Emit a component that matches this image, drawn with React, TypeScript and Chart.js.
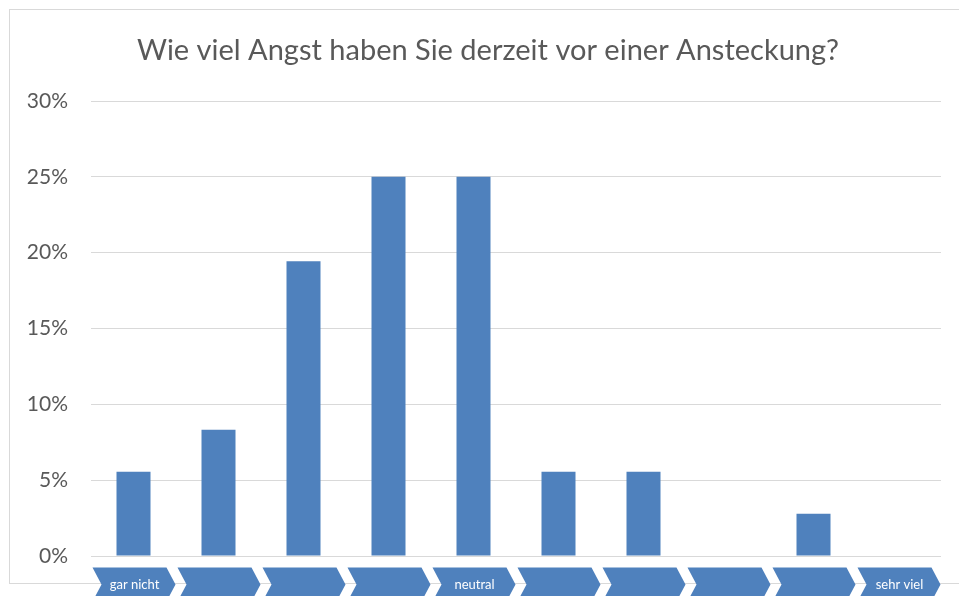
import React, { useEffect, useRef } from "react";
import { Chart, registerables } from "chart.js";

Chart.register(...registerables);

const chartTitle = "Wie viel Angst haben Sie derzeit vor einer Ansteckung?";
const categories = ["1", "2", "3", "4", "5", "6", "7", "8", "9", "10"];
const chevronLabels = ["gar nicht", "", "", "", "neutral", "", "", "", "", "sehr viel"];
const shares = [5.56, 8.33, 19.44, 25, 25, 5.56, 5.56, 0, 2.78, 0];
const yMin = 0;
const yMax = 30;
const yStep = 5;

const BLUE = "#4F81BD";
const GRID = "#D9D9D9";
const TEXT = "#595959";
const FONT = "Lato, 'Open Sans', sans-serif";

const decorPlugin = {
  id: "decor",
  beforeDraw(chart: any) {
    const ctx = chart.ctx;
    ctx.save();
    ctx.fillStyle = "#ffffff";
    ctx.fillRect(0, 0, chart.width, chart.height);
    ctx.strokeStyle = GRID;
    ctx.lineWidth = 1;
    ctx.strokeRect(9.5, 9.5, 970, 574);
    ctx.restore();
  },
  afterDraw(chart: any) {
    const ctx = chart.ctx;
    const area = chart.chartArea;
    const xs = chart.scales.x;
    ctx.save();
    // title
    ctx.fillStyle = TEXT;
    ctx.font = `29px ${FONT}`;
    ctx.textAlign = "center";
    ctx.textBaseline = "alphabetic";
    ctx.fillText(chartTitle, 488, 60);
    // chevrons
    const top = area.bottom + 11.5;
    const h = 34;
    const mid = top + h / 2;
    const bot = top + h;
    chevronLabels.forEach((lab, i) => {
      const cx = xs.getPixelForValue(i);
      ctx.beginPath();
      ctx.moveTo(cx - 41, top);
      ctx.lineTo(cx + 33, top);
      ctx.lineTo(cx + 42, mid);
      ctx.lineTo(cx + 33, bot);
      ctx.lineTo(cx - 41, bot);
      ctx.lineTo(cx - 32, mid);
      ctx.closePath();
      ctx.fillStyle = BLUE;
      ctx.fill();
      if (lab) {
        ctx.fillStyle = "#ffffff";
        ctx.font = `13px ${FONT}`;
        ctx.textAlign = "center";
        ctx.textBaseline = "middle";
        ctx.fillText(lab, cx + 1, mid);
      }
    });
    ctx.restore();
  },
};

export default function App() {
  const ref = useRef<HTMLCanvasElement | null>(null);
  useEffect(() => {
    if (!ref.current) return;
    const chart = new Chart(ref.current, {
      type: "bar",
      data: {
        labels: categories,
        datasets: [
          {
            data: shares,
            backgroundColor: BLUE,
            borderWidth: 0,
            barPercentage: 0.4,
            categoryPercentage: 1,
          },
        ],
      },
      options: {
        animation: false,
        responsive: true,
        maintainAspectRatio: false,
        layout: { padding: { top: 101, right: 18, bottom: 40, left: 0 } },
        plugins: {
          legend: { display: false },
          title: { display: false },
          tooltip: { enabled: false },
        },
        scales: {
          x: { display: false },
          y: {
            min: yMin,
            max: yMax,
            border: { display: false },
            grid: { color: GRID, lineWidth: 1, drawTicks: false },
            ticks: {
              stepSize: yStep,
              padding: 23,
              color: TEXT,
              font: { family: FONT, size: 21 },
              callback: (v: any) => `${v}%`,
            },
            afterFit(scale: any) {
              scale.width = 91;
            },
          },
        },
      },
      plugins: [decorPlugin],
    });
    return () => chart.destroy();
  }, []);
  return (
    <div style={{ position: "fixed", left: 0, top: 0, width: 959, height: 596, background: "#fff" }}>
      <canvas ref={ref} />
    </div>
  );
}
